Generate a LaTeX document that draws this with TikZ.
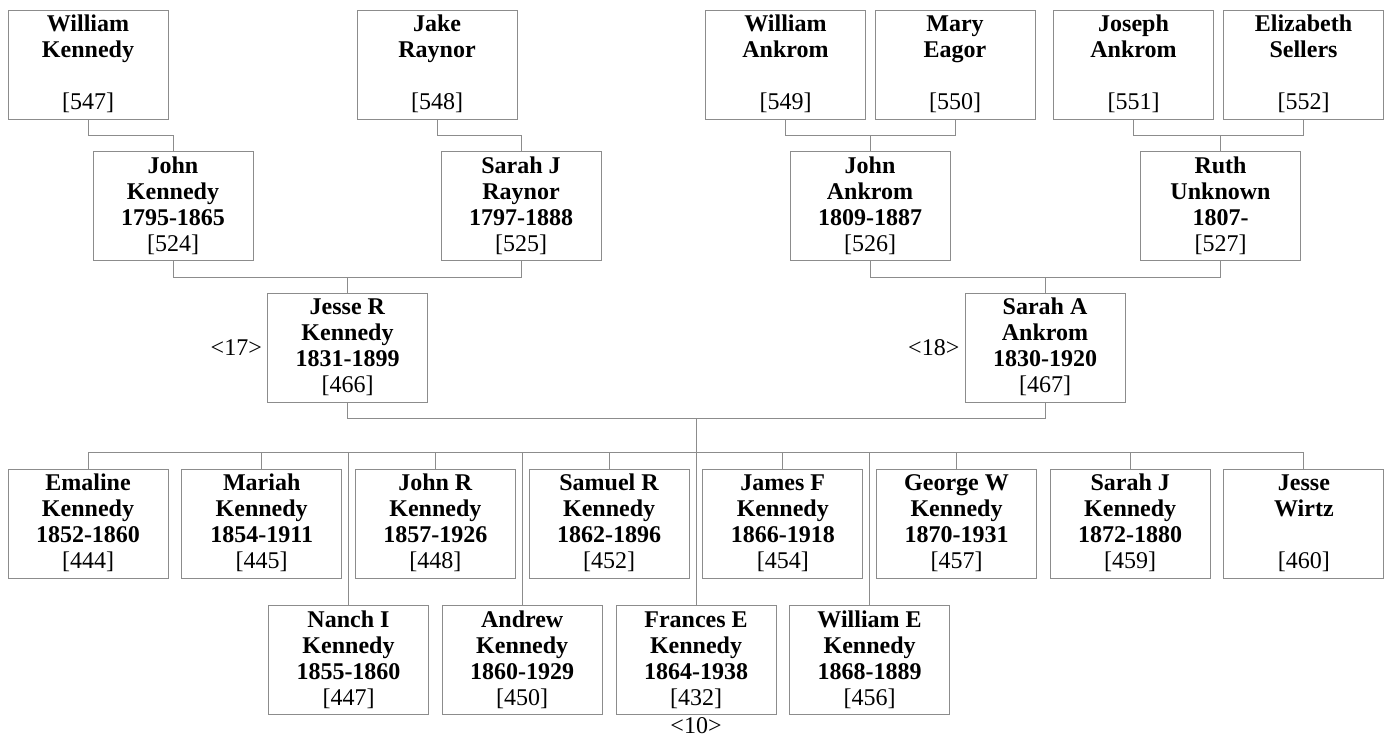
\documentclass[tikz,border=0pt]{standalone}
\usepackage{fontspec}
\setmainfont{Liberation Serif}
\definecolor{linegray}{RGB}{140,140,140}
\newcommand{\pers}[4]{\rule{0pt}{18pt}\textbf{#1}\\\textbf{#2}\\\textbf{#3}\\{[}#4{]}\rule[-6pt]{0pt}{6pt}}
\tikzset{
  person/.style={draw=linegray, line width=1pt, minimum width=160pt, minimum height=109pt,
    inner sep=0pt, align=center, font=\fontsize{24}{26}\selectfont},
  link/.style={draw=linegray, line width=1pt},
  tag/.style={inner sep=0pt, font=\fontsize{24}{26}\selectfont}
}
\begin{document}
\begin{tikzpicture}[x=1pt,y=-1pt]
\useasboundingbox (0,0) rectangle (1389,737);
% generation 1
\node[person] (wk) at (88,64.5) {\pers{William}{Kennedy}{~}{547}};
\node[person] (jr) at (437,64.5) {\pers{Jake}{Raynor}{~}{548}};
\node[person] (wa) at (785.5,64.5) {\pers{William}{Ankrom}{~}{549}};
\node[person] (me) at (955,64.5) {\pers{Mary}{Eagor}{~}{550}};
\node[person] (ja) at (1133.5,64.5) {\pers{Joseph}{Ankrom}{~}{551}};
\node[person] (es) at (1303.5,64.5) {\pers{Elizabeth}{Sellers}{~}{552}};
% generation 2
\node[person] (jk) at (173,206) {\pers{John}{Kennedy}{1795-1865}{524}};
\node[person] (sjr) at (521,206) {\pers{Sarah J}{Raynor}{1797-1888}{525}};
\node[person] (jan) at (870,206) {\pers{John}{Ankrom}{1809-1887}{526}};
\node[person] (ru) at (1220.5,206) {\pers{Ruth}{Unknown}{1807-}{527}};
% generation 3
\node[person] (jrk) at (347.5,347.5) {\pers{Jesse R}{Kennedy}{1831-1899}{466}};
\node[person] (saa) at (1045,347.5) {\pers{Sarah A}{Ankrom}{1830-1920}{467}};
\node[tag, anchor=east] (l17) at ([xshift=-5pt]jrk.west) {\textless17\textgreater};
\node[tag, anchor=east] (l18) at ([xshift=-5pt]saa.west) {\textless18\textgreater};
% children row 1
\node[person] (c1) at (88,523.5) {\pers{Emaline}{Kennedy}{1852-1860}{444}};
\node[person] (c2) at (261.7,523.5) {\pers{Mariah}{Kennedy}{1854-1911}{445}};
\node[person] (c3) at (435.4,523.5) {\pers{John R}{Kennedy}{1857-1926}{448}};
\node[person] (c4) at (609.1,523.5) {\pers{Samuel R}{Kennedy}{1862-1896}{452}};
\node[person] (c5) at (782.8,523.5) {\pers{James F}{Kennedy}{1866-1918}{454}};
\node[person] (c6) at (956.5,523.5) {\pers{George W}{Kennedy}{1870-1931}{457}};
\node[person] (c7) at (1130.2,523.5) {\pers{Sarah J}{Kennedy}{1872-1880}{459}};
\node[person] (c8) at (1303.9,523.5) {\pers{Jesse}{Wirtz}{~}{460}};
% children row 2
\node[person] (d1) at (348.5,660) {\pers{Nanch I}{Kennedy}{1855-1860}{447}};
\node[person] (d2) at (522.2,660) {\pers{Andrew}{Kennedy}{1860-1929}{450}};
\node[person] (d3) at (696,660) {\pers{Frances E}{Kennedy}{1864-1938}{432}};
\node[person] (d4) at (869.6,660) {\pers{William E}{Kennedy}{1868-1889}{456}};
\node[tag, anchor=north] (l10) at ([yshift=-2pt]d3.south) {\textless10\textgreater};
% connectors generation 1 -> 2
\draw[link] (wk.south) -- ++(0,16) -| (jk.north);
\draw[link] (jr.south) -- ++(0,16) -| (sjr.north);
\draw[link] (wa.south) -- ++(0,16) -| (me.south);
\draw[link] (jan.north) -- ++(0,-16);
\draw[link] (ja.south) -- ++(0,16) -| (es.south);
\draw[link] (ru.north) -- ++(0,-16);
% generation 2 -> 3
\draw[link] (jk.south) -- ++(0,16) -| (sjr.south);
\draw[link] (jrk.north) -- ++(0,-16);
\draw[link] (jan.south) -- ++(0,16) -| (ru.south);
\draw[link] (saa.north) -- ++(0,-16);
% generation 3 -> children
\coordinate (bus) at (0,453);
\draw[link] (jrk.south) -- ++(0,16) -| (saa.south);
\draw[link] (d3.north) -- ++(0,-187);
\draw[link] (c1.north) -- ++(0,-16) -| (c8.north);
\foreach \c in {c2,c3,c4,c5,c6,c7} {\draw[link] (\c.north) -- (\c.north |- bus);}
\foreach \c in {d1,d2,d4} {\draw[link] (\c.north) -- (\c.north |- bus);}
\end{tikzpicture}
\end{document}
